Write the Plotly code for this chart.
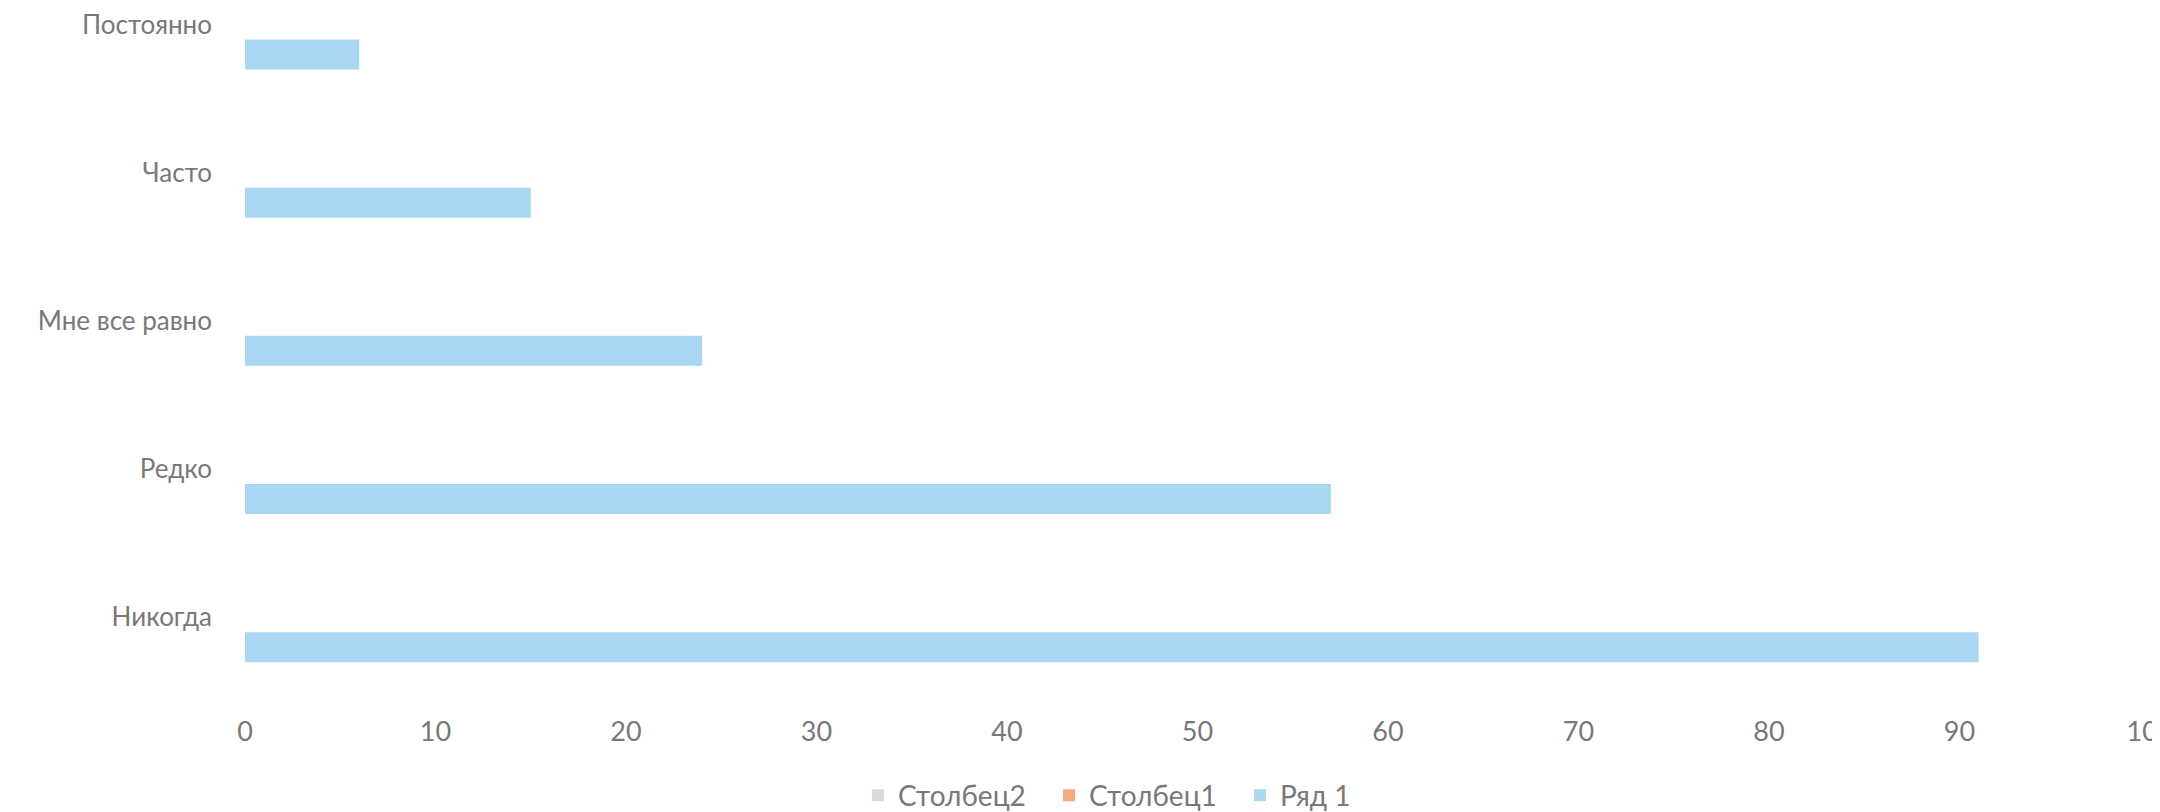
import plotly.graph_objects as go

categories = ["Никогда", "Редко", "Мне все равно", "Часто", "Постоянно"]
series_row1 = [91, 57, 24, 15, 6]
series_col1 = [None, None, None, None, None]
series_col2 = [None, None, None, None, None]
x_ticks = [0, 10, 20, 30, 40, 50, 60, 70, 80, 90, 100]

FONT = "Lato, Carlito, Calibri, sans-serif"
TXT = "#787878"

fig = go.Figure()
fig.add_trace(go.Bar(name="Ряд 1", y=categories, x=series_row1, orientation="h",
                     marker=dict(color="#A8D6F3", line=dict(width=0))))
fig.add_trace(go.Bar(name="Столбец1", y=categories, x=series_col1, orientation="h",
                     marker=dict(color="#F6A97E", line=dict(width=0))))
fig.add_trace(go.Bar(name="Столбец2", y=categories, x=series_col2, orientation="h",
                     marker=dict(color="#DADADA", line=dict(width=0))))

fig.update_layout(
    width=2160, height=812,
    margin=dict(l=237, r=18, t=0, b=124, autoexpand=False),
    paper_bgcolor="white", plot_bgcolor="white",
    barmode="group", bargap=0.393, bargroupgap=0,
    font=dict(family=FONT, size=26, color=TXT),
    showlegend=True,
    legend=dict(orientation="h", traceorder="reversed",
                xref="container", yref="container",
                x=0.3935, xanchor="left", y=0.03, yanchor="middle",
                font=dict(family=FONT, size=28, color=TXT),
                itemwidth=30, tracegroupgap=0,
                entrywidth=146, entrywidthmode="pixels"),
    xaxis=dict(range=[0, 100], tickvals=x_ticks, showgrid=False, zeroline=False,
               showline=False, ticks="", ticklabelstandoff=17, automargin=False,
               ticklabeloverflow="allow",
               tickfont=dict(family=FONT, size=27, color=TXT)),
    yaxis=dict(type="category", categoryorder="array", categoryarray=categories,
               range=[-0.531, 4.111], showgrid=False, zeroline=False, showline=False,
               ticks="", ticklabelstandoff=32, automargin=False,
               tickfont=dict(family=FONT, size=26, color=TXT)),
)

fig.write_html("out.html")
